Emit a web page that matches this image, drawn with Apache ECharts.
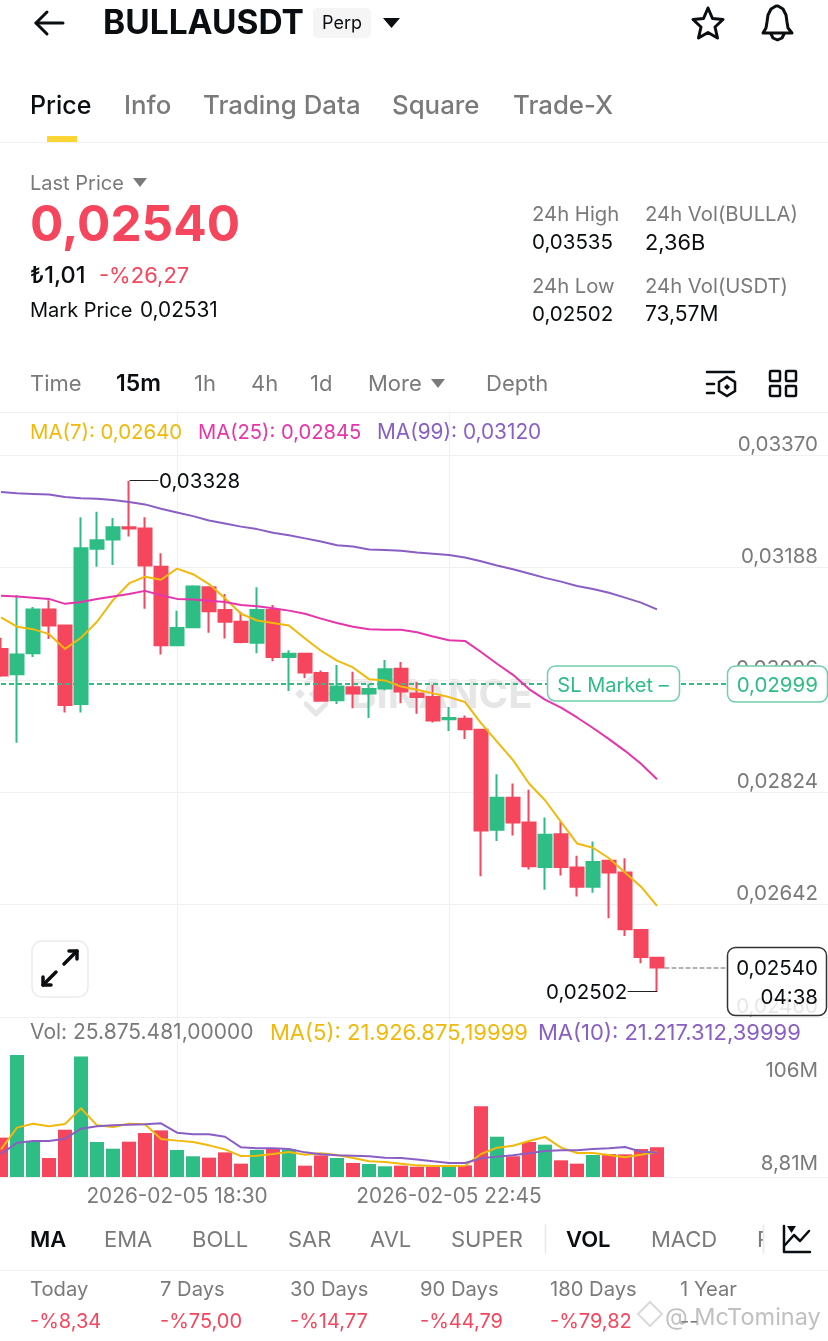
<!DOCTYPE html>
<html><head><meta charset="utf-8">
<style>html,body{margin:0;padding:0;background:#fff}#c{width:828px;height:1341px}</style>
<script src="https://cdn.jsdelivr.net/npm/echarts@6/dist/echarts.min.js"></script>
</head><body><div id="c"></div>
<script>
const times = ['15:45','16:00','16:15','16:30','16:45','17:00','17:15','17:30','17:45','18:00','18:15','18:30','18:45','19:00','19:15','19:30','19:45','20:00','20:15','20:30','20:45','21:00','21:15','21:30','21:45','22:00','22:15','22:30','22:45','23:00','23:15','23:30','23:45','00:00','00:15','00:30','00:45','01:00','01:15','01:30','01:45','02:00','','','','','','','','','','',''];
// [open, close, low, high]
const candles = [
[0.03056,0.03013,0.03011,0.03074],[0.03015,0.03047,0.02904,0.03143],[0.03049,0.03120,0.03043,0.03124],[0.03120,0.03094,0.03072,0.03135],
[0.03094,0.02965,0.02953,0.03094],[0.02967,0.03219,0.02953,0.03269],[0.03218,0.03232,0.03189,0.03278],[0.03233,0.03253,0.03192,0.03268],
[0.03253,0.03251,0.03238,0.03328],[0.03251,0.03191,0.03121,0.03269],[0.03189,0.03062,0.03047,0.03211],[0.03062,0.03090,0.03062,0.03118],
[0.03091,0.03157,0.03091,0.03159],[0.03156,0.03117,0.03082,0.03156],[0.03119,0.03100,0.03073,0.03145],[0.03100,0.03067,0.03065,0.03116],
[0.03066,0.03119,0.03049,0.03156],[0.03119,0.03043,0.03036,0.03127],[0.03043,0.03048,0.02988,0.03054],[0.03048,0.03018,0.03009,0.03048],
[0.03017,0.02972,0.02972,0.03021],[0.02973,0.02995,0.02967,0.03030],[0.02994,0.02984,0.02960,0.03019],[0.02984,0.02991,0.02944,0.02999],
[0.02992,0.03023,0.02989,0.03038],[0.03024,0.02987,0.02968,0.03035],[0.02984,0.02978,0.02951,0.03003],[0.02978,0.02940,0.02937,0.02998],
[0.02942,0.02944,0.02923,0.02962],[0.02943,0.02926,0.02910,0.02948],[0.02925,0.02762,0.02688,0.02925],[0.02763,0.02815,0.02745,0.02853],
[0.02815,0.02775,0.02754,0.02838],[0.02775,0.02704,0.02699,0.02828],[0.02703,0.02755,0.02666,0.02783],[0.02756,0.02703,0.02689,0.02776],
[0.02702,0.02671,0.02655,0.02721],[0.02671,0.02711,0.02661,0.02744],[0.02713,0.02694,0.02620,0.02713],[0.02694,0.02602,0.02591,0.02717],
[0.02601,0.02557,0.02547,0.02601],[0.02556,0.02540,0.02502,0.02556]];
const ma7 = [0.03107,0.03092,0.03088,0.03080,0.03056,0.03074,0.03100,0.03135,0.03162,0.03173,0.03168,0.03186,0.03177,0.03161,0.03138,0.03113,0.03102,0.03098,0.03094,0.03073,0.03053,0.03037,0.03026,0.03007,0.03005,0.02995,0.02990,0.02984,0.02978,0.02970,0.02936,0.02906,0.02876,0.02838,0.02811,0.02776,0.02741,0.02734,0.02717,0.02694,0.02671,0.02640];
const ma25 = [0.03142,0.03141,0.03139,0.03137,0.03129,0.03132,0.03137,0.03141,0.03145,0.03150,0.03143,0.03137,0.03136,0.03134,0.03132,0.03127,0.03125,0.03122,0.03118,0.03113,0.03105,0.03098,0.03092,0.03088,0.03087,0.03087,0.03083,0.03076,0.03070,0.03069,0.03051,0.03032,0.03014,0.02991,0.02974,0.02961,0.02945,0.02928,0.02910,0.02891,0.02870,0.02845];
const ma99 = [0.03310,0.03308,0.03307,0.03306,0.03302,0.03300,0.03299,0.03297,0.03294,0.03290,0.03283,0.03277,0.03271,0.03264,0.03259,0.03254,0.03250,0.03244,0.03240,0.03235,0.03230,0.03224,0.03222,0.03217,0.03216,0.03215,0.03212,0.03210,0.03208,0.03204,0.03198,0.03191,0.03185,0.03178,0.03171,0.03165,0.03158,0.03153,0.03147,0.03139,0.03131,0.03120];
const volumes = [34.2,106,30.7,16.5,41.1,104.6,30.4,24.6,30.7,38.2,40.5,23.5,18,16.8,21.4,11.6,23.5,24.6,24,9.85,18.8,16.5,12.2,11.3,9.3,9.85,8.98,9,10.4,10.1,61.4,35,18,30.4,28.1,14.5,11.6,19.1,20,19.7,24.3,25.875];
const volMa5 = [24,42.9,46.3,44,46,59.7,44.9,43.4,46.3,45.8,33,31.6,30.4,27.5,24,18.2,18.5,20,21.7,19.4,20.6,19.1,16.5,13.6,13,11.6,10.1,9.6,9.6,9.8,20,25.5,27.2,31.3,34.8,25.5,20.9,20.9,19.1,17.1,19.4,21.93];
const volMa10 = [20,29.8,31.3,31.3,33.3,42,44,44.9,45.5,45.8,46.6,38.5,37.1,37.1,35,25.8,24.9,24.9,24.3,21.4,19.7,18.8,18.5,18,16.8,16.5,15.1,13.6,12.2,12.2,16.2,17.7,18.8,20.6,22.6,23.2,23.2,24.3,24.9,26.1,22,21.22];
const priceTicks = [0.0246,0.02642,0.02824,0.03006,0.03188,0.0337];
const slPrice = 0.02999;
const tabs = ['Price','Info','Trading Data','Square','Trade-X'];
const intervals = ['Time','15m','1h','4h','1d','More','Depth'];
const indicators = ['MA','EMA','BOLL','SAR','AVL','SUPER','VOL','MACD','RSI'];
const periods = ['Today','7 Days','30 Days','90 Days','180 Days','1 Year'];
const periodValues = ['-%8,34','-%75,00','-%14,77','-%44,79','-%79,82','--'];

const FONT='Inter, "Noto Sans", sans-serif';
const GRAY='#7a7a7a',BLACK='#0b0e11',RED='#f6465d',GREEN='#2ebd85',GOLD='#f0b90b',PINK='#e535ab',PURPLE='#8a5fc4',LINE='#f0f0f0';
const g=[];
function T(x,y,text,size,fill,weight,align,z){g.push({type:'text',z:z==null?50:z,silent:true,style:{x,y:y+1,text,fill,font:(weight||400)+' '+size+'px '+FONT,align:align||'left',verticalAlign:'middle'}});}
function R(x,y,w,h,r,fill,stroke,lw,z){g.push({type:'rect',z:z==null?40:z,silent:true,shape:{x,y,width:w,height:h,r},style:{fill:fill||'none',stroke:stroke||'none',lineWidth:lw||1}});}
function P(points,stroke,lw,z,dash){g.push({type:'polyline',z:z==null?50:z,silent:true,shape:{points},style:{stroke,lineWidth:lw,fill:'none',lineDash:dash||null,lineCap:'round',lineJoin:'round'}});}
function G(points,fill,z){g.push({type:'polygon',z:z==null?50:z,silent:true,shape:{points},style:{fill}});}

// header
P([[63,23],[36,23]],BLACK,3); P([[47,12],[36,23],[47,34]],BLACK,3);
T(103,23,'BULLAUSDT',33.5,BLACK,700);
R(313,8,58,30,5,'#f5f5f5'); T(342,23,'Perp',18,BLACK,400,'center');
G([[383,18],[400,18],[391.5,28]],BLACK);
G([[708,8],[712.5,18.5],[723,19.5],[715,27],[717.5,38],[708,32.5],[698.5,38],[701,27],[693,19.5],[703.5,18.5]],'none');
g[g.length-1].style={fill:'none',stroke:BLACK,lineWidth:3,lineJoin:'round'};
P([[763,33],[766,28],[767,22],[768,15],[771,9],[776,6],[778,6],[783,9],[786,15],[787,22],[788,28],[792,33],[763,33]],BLACK,3);
P([[771,34],[773,38],[777.5,40],[782,38],[784,34]],BLACK,3);
// tabs
const tabX=[30,124,203,392,513];
tabs.forEach((t,i)=>T(tabX[i],105,t,i==0?25:25.8,i==0?BLACK:GRAY,500));
R(47,136,30,6,0,'#fcd535'); P([[0,142.5],[828,142.5]],LINE,1);
// price block
T(30,183,'Last Price',20,GRAY); G([[133,178],[147,178],[140,187]],GRAY);
T(30,225,'0,02540',49.5,RED,700);
T(30,275,'₺1,01',23.5,BLACK,500); T(99,275,'-%26,27',22,RED);
T(30,310,'Mark Price',20,BLACK); T(140,310,'0,02531',20.8,BLACK);
T(532,214,'24h High',20.3,GRAY); T(645,214,'24h Vol(BULLA)',20.3,GRAY);
T(532,242,'0,03535',20.5,BLACK); T(645,242,'2,36B',21.8,BLACK);
T(532,286,'24h Low',20.3,GRAY); T(645,286,'24h Vol(USDT)',20.3,GRAY);
T(532,314,'0,02502',20.5,BLACK); T(645,314,'73,57M',21,BLACK);
// interval bar
const intX=[30,116,194,251,310,368,486];
intervals.forEach((t,i)=>T(intX[i],383,t,i==1?23:22,i==1?BLACK:GRAY,i==1?600:400));
G([[431,379],[445,379],[438,388]],GRAY);
P([[707,372],[734,372]],BLACK,2.5); P([[707,384],[714,384]],BLACK,2.5); P([[707,393],[714,393]],BLACK,2.5);
G([[727,377],[735,382],[735,391],[727,396],[719,391],[719,382]],'none');g[g.length-1].style={fill:'none',stroke:BLACK,lineWidth:2.5};
G([[727,384],[730,387],[727,390],[724,387]],BLACK);
R(770,371,10,10,1,'none',BLACK,2.5);R(786,371,10,10,1,'none',BLACK,2.5);R(770,386,10,10,1,'none',BLACK,2.5);R(786,386,10,10,1,'none',BLACK,2.5);
P([[0,412.5],[828,412.5]],LINE,1,1);
// MA legend
T(30,432,'MA(7): 0,02640',20.4,GOLD); T(198,432,'MA(25): 0,02845',20.2,PINK); T(377,432,'MA(99): 0,03120',20.8,PURPLE);
// watermark (behind marks)
const wc='#e6e6e6';
G([[316,687],[323,694],[316,701],[309,694]],wc,0);
G([[300,689],[305,694],[300,699],[295,694]],wc,0);
G([[332,689],[337,694],[332,699],[327,694]],wc,0);
P([[306,684],[316,674],[326,684]],wc,5,0);P([[306,704],[316,714],[326,704]],wc,5,0);
T(350,695,'BINANCE',40,wc,700,'left',0);
// high/low annotations
P([[130,480.5],[158,480.5]],'#222',1); T(159,481,'0,03328',20.5,BLACK);
P([[628,991.5],[657,991.5]],'#222',1); T(546,992,'0,02502',20.5,BLACK);
// SL line boxes
R(547.5,666,132,35,8,'#fff','#6fcfab',1.5); T(613,685,'SL Market –',20,GREEN,400,'center');
R(727.5,666,100,36,8,'#fff','#6fcfab',1.5); T(818,685,'0,02999',20.5,GREEN,400,'right');
// last price
P([[665,968],[727,968]],'#666',1,30,[4,3]);
R(727.5,947.5,99,68,8,'rgba(255,255,255,0.82)','#333',1.5); T(818,968,'0,02540',20.5,BLACK,400,'right'); T(818,997,'04:38',20.5,BLACK,400,'right');
// expand button
R(32,941,56,56,10,'#fff','#ececec',1.5);
P([[64,964],[77,951]],BLACK,3.5);P([[69,951],[77,951],[77,959]],BLACK,3.5);P([[56,972],[43,985]],BLACK,3.5);P([[43,977],[43,985],[51,985]],BLACK,3.5);
// volume legend + labels
T(30,1032,'Vol: 25.875.481,00000',21,GRAY); T(270,1032,'MA(5): 21.926.875,19999',22,GOLD); T(538,1032,'MA(10): 21.217.312,39999',22,PURPLE);
T(818,1070,'106M',20.5,GRAY,400,'right'); T(818,1163,'8,81M',20.5,GRAY,400,'right');
// indicators
const indX=[30,104,192,288,370,451,566,651,757];
indicators.forEach((t,i)=>T(indX[i],1239,t,22,(i==0||i==6)?BLACK:GRAY,(i==0||i==6)?600:400));
R(763,1222,60,34,0,'#fff',null,1,55);
P([[545.5,1225],[545.5,1253]],'#e8e8e8',1.5);P([[763.5,1225],[763.5,1253]],'#e8e8e8',1.5,60);
P([[784,1226],[784,1252],[810,1252]],BLACK,2.5,60);P([[785,1245],[794,1235],[800,1241],[809,1231]],BLACK,2.5,60);G([[787,1226],[796,1226],[791.5,1233]],BLACK,60);
P([[0,1270.5],[828,1270.5]],LINE,1);
// period rows
const perX=[30,160,290,420,550,680];
periods.forEach((t,i)=>T(perX[i],1289,t,20.2,GRAY));
periodValues.forEach((t,i)=>T(perX[i],1321,t,20,i==5?GRAY:RED));
// image credit
G([[650,1302],[662,1314],[650,1326],[638,1314]],'none',60);g[g.length-1].style={fill:'none',stroke:'#dadada',lineWidth:2};
T(665,1317,'@ McTominay',23.5,'rgba(150,150,150,0.6)',400,'left',60);

const fmtPrice=v=>v.toFixed(5).replace('.',',');
const markIdx=[11,28];
const show=i=>markIdx.includes(i);
const cat=times.map((t,i)=>t?(i>=33?'2026-02-06 ':'2026-02-05 ')+t:' ');
const vline={show:true,alignWithLabel:true,interval:show,lineStyle:{color:LINE,width:1}};
const lineS=(name,data,color,xi,yi,w)=>({name,type:'line',data,xAxisIndex:xi,yAxisIndex:yi,symbol:'none',smooth:false,z:5,silent:true,lineStyle:{color,width:w||2},animation:false});

const chart=echarts.init(document.getElementById('c'),null,{renderer:'canvas'});
chart.setOption({
 animation:false,backgroundColor:'#fff',
 grid:[{left:-7,top:413,width:848,height:604,outerBoundsMode:'none'},{left:-7,top:1017,width:848,height:160,outerBoundsMode:'none'}],
 xAxis:[
  {type:'category',gridIndex:0,data:cat,boundaryGap:true,axisLine:{show:true,lineStyle:{color:LINE}},axisTick:{show:false,alignWithLabel:true},axisLabel:{show:false},splitLine:vline},
  {type:'category',gridIndex:1,data:cat,boundaryGap:true,axisLine:{show:true,lineStyle:{color:LINE}},axisTick:{show:false,alignWithLabel:true},splitLine:vline,
   axisLabel:{show:true,interval:show,margin:9,fontSize:20.8,fontFamily:FONT,color:GRAY,hideOverlap:false}}
 ],
 yAxis:[
  {type:'value',gridIndex:0,position:'right',offset:-23,min:0.0246,max:0.03438,axisLine:{show:false},
   axisTick:{show:false,customValues:priceTicks},
   axisLabel:{show:true,inside:true,margin:0,customValues:priceTicks,fontSize:20.5,fontFamily:FONT,color:GRAY,align:'right',verticalAlign:'bottom',padding:[0,0,0,0],formatter:fmtPrice,hideOverlap:false},
   splitLine:{show:true,lineStyle:{color:LINE,width:1}}},
  {type:'value',gridIndex:1,min:0,max:139,axisLine:{show:false},axisTick:{show:false},axisLabel:{show:false},splitLine:{show:false}}
 ],
 series:[
  {name:'Price',type:'candlestick',data:candles,xAxisIndex:0,yAxisIndex:0,barWidth:13,z:3,silent:true,
   itemStyle:{color:GREEN,color0:RED,borderColor:GREEN,borderColor0:RED,borderWidth:2},
   markLine:{silent:true,symbol:'none',label:{show:false},z:4,lineStyle:{color:GREEN,type:[5,3],width:2},data:[{yAxis:slPrice}]}},
  lineS('MA7',ma7,GOLD,0,0),lineS('MA25',ma25,PINK,0,0),lineS('MA99',ma99,PURPLE,0,0),
  {name:'Vol',type:'bar',xAxisIndex:1,yAxisIndex:1,barWidth:14,z:3,silent:true,
   data:volumes.map((v,i)=>({value:v,itemStyle:{color:candles[i][1]>=candles[i][0]?GREEN:RED}}))},
  lineS('VolMA5',volMa5,GOLD,1,1),lineS('VolMA10',volMa10,PURPLE,1,1)
 ],
 graphic:{elements:g}
});
</script></body></html>
